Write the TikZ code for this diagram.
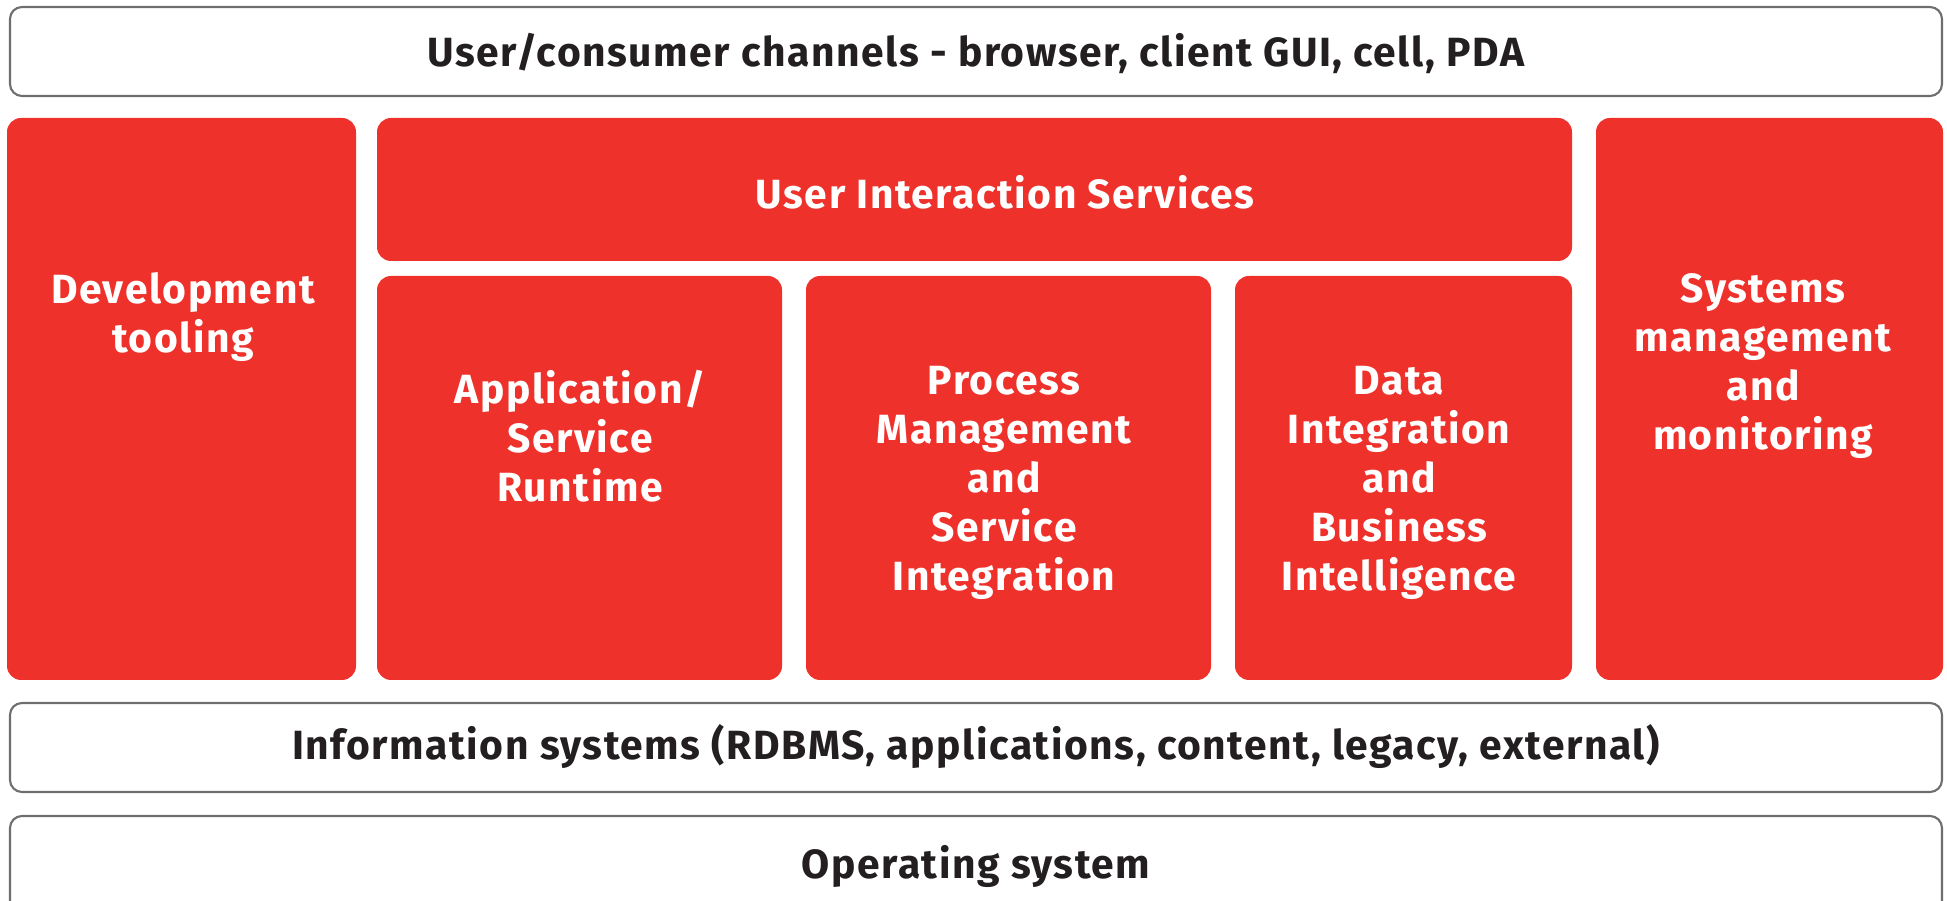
\documentclass[tikz,border=0pt]{standalone}
\usepackage{fontspec}
\setmainfont{Fira Sans}[LetterSpace=3.8]
\definecolor{rhred}{RGB}{238,49,43}
\definecolor{framegray}{RGB}{110,110,112}
\definecolor{inkdark}{RGB}{35,31,32}

\begin{document}
\begin{tikzpicture}[x=0.01cm,y=-0.01cm,
		layer/.style={draw=framegray,line width=0.6pt,fill=white,rounded corners=0.12cm},
		block/.style={fill=rhred,rounded corners=0.14cm},
		txt/.style={font=\fontsize{11.6}{13.9}\selectfont\bfseries,align=center,inner sep=0pt},
		darktxt/.style={txt,text=inkdark},
		lighttxt/.style={txt,text=white}]
		\clip (0,0) rectangle (1947,901);
		% white layers
		\path[layer] (10,7) rectangle (1942,96);
		\path[layer] (10,703) rectangle (1942,792);
		\path[layer] (10,816) rectangle (1942,920);
		\node[darktxt] (chan) at (976,53) {User/consumer channels - browser, client GUI, cell, PDA};
		\node[darktxt] (info) at (976,747) {Information systems (RDBMS, applications, content, legacy, external)};
		\node[darktxt] (os) at (976,866) {Operating system};
		% red blocks
		\path[block] (7,118) rectangle (356,680);
		\path[block] (377,118) rectangle (1572,261);
		\path[block] (377,276) rectangle (782,680);
		\path[block] (806,276) rectangle (1211,680);
		\path[block] (1235,276) rectangle (1572,680);
		\path[block] (1596,118) rectangle (1943,680);
		\node[lighttxt] (dev) at (183,317) {Development\\tooling};
		\node[lighttxt] (uis) at (1005,192) {User Interaction Services};
		\node[lighttxt] (app) at (580,436) {Application/\\Service\\Runtime};
		\node[lighttxt] (proc) at (1004,483) {Process\\Management\\and\\Service\\Integration};
		\node[lighttxt] (data) at (1399,483) {Data\\Integration\\and\\Business\\Intelligence};
		\node[lighttxt] (sys) at (1763,366) {Systems\\management\\and\\monitoring};
	\end{tikzpicture}
\end{document}
